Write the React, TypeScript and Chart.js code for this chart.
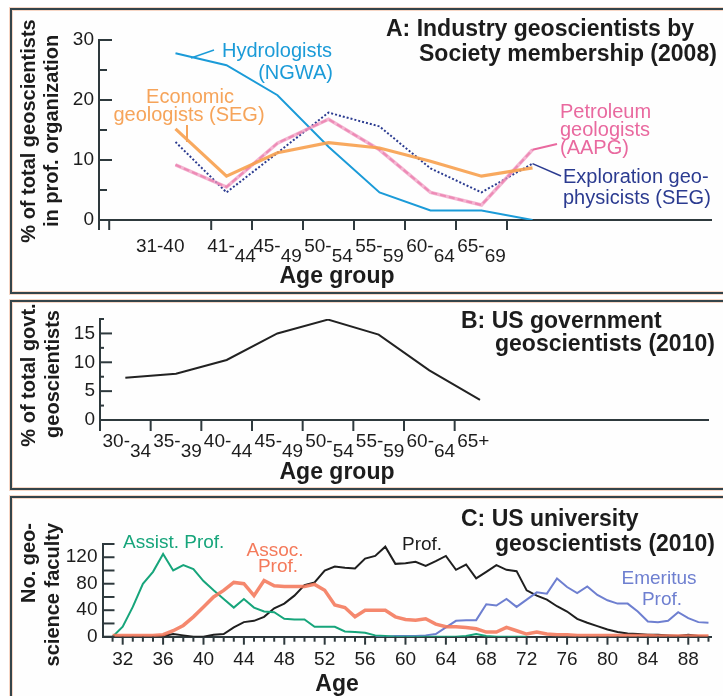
import React, { useEffect, useRef } from "react";
import { Chart, registerables } from "chart.js";

Chart.register(...registerables);

const SANS = '"Liberation Sans", Arial, Helvetica, sans-serif';
const INK = "#1c1c1c";
const AXIS = "#2e393d";

// ---------- Panel A: industry geoscientists by society (2008) ----------
const industryPointAges = [37, 42, 47, 52, 57, 62, 67, 72];
const hydrologistsNGWA = [27.8, 25.8, 20.8, 12.2, 4.6, 1.6, 1.6, 0];
const economicGeologistsSEG = [15.2, 7.3, 11.2, 12.9, 12.0, 9.8, 7.3, 8.7];
const petroleumGeologistsAAPG = [9.2, 5.5, 12.8, 16.8, 11.7, 4.6, 2.5, 11.7];
const explorationGeophysicistsSEG = [13.0, 4.6, 11.2, 17.9, 15.6, 8.6, 4.6, 9.4];
const industryBinEdges = [30.5, 40.5, 44.5, 49.5, 54.5, 59.5, 64.5, 69.5];
const industryBinLabels = ["31-40", "41-|44", "45-|49", "50-|54", "55-|59", "60-|64", "65-|69"];
const industryYTicks = [0, 5, 10, 15, 20, 25, 30];
const industryYLabels = [0, 10, 20, 30];

// ---------- Panel B: US government geoscientists (2010) ----------
const govtPointAges = [32, 37, 42, 47, 52, 57, 62, 67];
const govtShare = [7.3, 8.0, 10.4, 15.0, 17.4, 14.8, 8.6, 3.5];
const govtBinEdges = [29.5, 34.5, 39.5, 44.5, 49.5, 54.5, 59.5, 64.5];
const govtBinLabels = ["30-|34", "35-|39", "40-|44", "45-|49", "50-|54", "55-|59", "60-|64", "65+"];
const govtYTicks = [2.5, 5, 7.5, 10, 12.5, 15, 17.5];
const govtYLabels = [0, 5, 10, 15];

// ---------- Panel C: US university geoscientists (2010) ----------
const facultyAges = [
  31, 32, 33, 34, 35, 36, 37, 38, 39, 40,
  41, 42, 43, 44, 45, 46, 47, 48, 49, 50,
  51, 52, 53, 54, 55, 56, 57, 58, 59, 60,
  61, 62, 63, 64, 65, 66, 67, 68, 69, 70,
  71, 72, 73, 74, 75, 76, 77, 78, 79, 80,
  81, 82, 83, 84, 85, 86, 87, 88, 89, 90,
];
const assistProf = [
  0, 15, 45, 80, 98, 125, 100, 108, 102, 84,
  70, 57, 44, 57, 44, 38, 37, 27, 26, 26,
  15, 15, 15, 8, 7, 6, 2, 1, 0, 0,
  0, 0, 0, 0, 0, 1, 4, 1, 0, 0,
  0, 0, null, null, null, null, null, null, null, null,
  null, null, null, null, null, null, null, null, null, null,
];
const assocProf = [
  2, 2, 2, 2, 2, 3, 9, 17, 30, 45,
  60, 70, 82, 80, 62, 85, 77, 76, 76, 76,
  79, 70, 48, 44, 30, 40, 40, 40, 30, 26,
  25, 27, 19, 15, 15, 14, 12, 7, 7, 14,
  9, 4, 7, 4, 3, 3, 2, 2, 2, 2,
  2, 2, 2, 2, 1, 1, 1, 1, 1, 1,
];
const fullProf = [
  0, 0, 0, 0, 0, 1, 4, 2, 0, 0,
  3, 4, 14, 22, 24, 30, 43, 50, 62, 78,
  82, 100, 106, 104, 103, 118, 122, 136, 110, 111,
  113, 107, 114, 122, 101, 109, 88, 98, 108, 101,
  99, 70, 62, 56, 46, 38, 27, 21, 16, 11,
  7, 5, 4, 3, 3, 2, 1, 3, 1, 0,
];
const emeritusProf = [
  null, null, null, null, null, null, null, null, null, null,
  null, null, null, null, null, null, null, null, null, null,
  null, null, null, null, null, null, 0, 0, 1, 1,
  1, 2, 4, 14, 24, 25, 25, 49, 47, 57,
  45, 56, 67, 65, 88, 75, 66, 76, 63, 55,
  50, 50, 38, 23, 22, 24, 37, 28, 22, 21,
];
const facultyLabelAges = [32, 36, 40, 44, 48, 52, 56, 60, 64, 68, 72, 76, 80, 84, 88];
const facultyYTicks = [0, 20, 40, 60, 80, 100, 120, 140];
const facultyYLabels = [0, 40, 80, 120];

// ---------- helpers ----------
function setFont(ctx: CanvasRenderingContext2D, size: number, bold = false) {
  ctx.font = `${bold ? "bold " : ""}${size}px ${SANS}`;
}
function drawText(ctx: CanvasRenderingContext2D, s: string, x: number, y: number, size: number, color: string, bold = false, align: CanvasTextAlign = "left") {
  setFont(ctx, size, bold);
  ctx.fillStyle = color;
  ctx.textAlign = align;
  ctx.textBaseline = "middle";
  ctx.fillText(s, x, y);
}
function drawRotated(ctx: CanvasRenderingContext2D, s: string, x: number, y: number, align: CanvasTextAlign) {
  ctx.save();
  ctx.translate(x, y);
  ctx.rotate(-Math.PI / 2);
  drawText(ctx, s, 0, 0, 20, INK, true, align);
  ctx.restore();
}
function seg(ctx: CanvasRenderingContext2D, x1: number, y1: number, x2: number, y2: number, color: string, width: number) {
  ctx.beginPath();
  ctx.setLineDash([]);
  ctx.strokeStyle = color;
  ctx.lineWidth = width;
  ctx.moveTo(x1, y1);
  ctx.lineTo(x2, y2);
  ctx.stroke();
}
function drawSplitLabel(ctx: CanvasRenderingContext2D, label: string, x: number, yMain: number, ySub: number, centered: boolean) {
  const [main, sub = ""] = label.split("|");
  setFont(ctx, 19);
  const w1 = ctx.measureText(main).width;
  const w2 = sub ? ctx.measureText(sub).width : 0;
  const x0 = centered ? x - (w1 + w2) / 2 : x;
  drawText(ctx, main, x0, yMain, 19, INK);
  if (sub) drawText(ctx, sub, x0 + w1, ySub, 19, INK);
}
function pts(xs: number[], ys: (number | null)[]) {
  return xs.map((x, i) => ({ x, y: ys[i] }));
}

function baseOptions(o: { xMin: number; xMax: number; yMax: number; yLabels: number[]; left: number; right: number; top: number; bottomHeight: number }) {
  return {
    responsive: false,
    animation: false,
    devicePixelRatio: 1,
    events: [],
    layout: { padding: { left: 0, right: o.right, top: o.top, bottom: 0 } },
    plugins: { legend: { display: false }, tooltip: { enabled: false }, title: { display: false } },
    elements: { point: { radius: 0, hoverRadius: 0 }, line: { tension: 0, borderCapStyle: "butt" } },
    scales: {
      x: {
        type: "linear",
        min: o.xMin,
        max: o.xMax,
        grid: { display: false, drawTicks: false },
        border: { display: true, color: AXIS, width: 2 },
        ticks: { display: false },
        afterFit: (s: any) => { s.height = o.bottomHeight; },
      },
      y: {
        type: "linear",
        min: 0,
        max: o.yMax,
        grid: { display: false, drawTicks: false },
        border: { display: true, color: AXIS, width: 2 },
        ticks: { padding: 5, color: INK, font: { family: SANS, size: 19 }, autoSkip: false },
        afterBuildTicks: (s: any) => { s.ticks = o.yLabels.map((v) => ({ value: v })); },
        afterFit: (s: any) => { s.width = o.left; },
      },
    },
  };
}

// ---------- panel A ----------
function industryConfig(): any {
  const decor = {
    id: "industryDecor",
    afterDraw(chart: any) {
      const { ctx, chartArea: ca, scales } = chart;
      const x = scales.x, y = scales.y;
      ctx.save();
      for (const v of industryYTicks) {
        const py = y.getPixelForValue(v);
        seg(ctx, ca.left, py, ca.left + (v % 10 === 0 ? 13 : 8), py, AXIS, 2);
      }
      seg(ctx, ca.left, ca.bottom, ca.left, ca.bottom + 10, AXIS, 2);
      for (const a of industryBinEdges) {
        const px = x.getPixelForValue(a);
        seg(ctx, px, ca.bottom, px, ca.bottom + 10, AXIS, 2);
      }
      industryBinLabels.forEach((lab, i) => {
        const cx = (x.getPixelForValue(industryBinEdges[i]) + x.getPixelForValue(industryBinEdges[i + 1])) / 2;
        drawSplitLabel(ctx, lab, cx, ca.bottom + 27, ca.bottom + 37, true);
      });
      drawText(ctx, "Age group", 337, ca.bottom + 57, 23, INK, true, "center");
      drawRotated(ctx, "% of total geoscientists", 29, 131, "center");
      drawRotated(ctx, "in prof. organization", 52, 131, "center");
      drawText(ctx, "A: Industry geoscientists by", 386, 30, 23, INK, true);
      drawText(ctx, "Society membership (2008)", 419, 55, 23, INK, true);

      // series labels and leader lines
      drawText(ctx, "Hydrologists", 332, 51, 20, "#1b9bd8", false, "right");
      drawText(ctx, "(NGWA)", 333, 73, 20, "#1b9bd8", false, "right");
      seg(ctx, 191, 58, 214, 50, "#1b9bd8", 1.5);
      drawText(ctx, "Economic", 190, 97, 20, "#f6a45a", false, "center");
      drawText(ctx, "geologists (SEG)", 189, 115, 20, "#f6a45a", false, "center");
      seg(ctx, 187, 125, 187, 142, "#f6a45a", 2);
      drawText(ctx, "Petroleum", 560, 112, 20, "#e9699f");
      drawText(ctx, "geologists", 560, 130, 20, "#e9699f");
      drawText(ctx, "(AAPG)", 560, 148, 20, "#e9699f");
      const pLast = petroleumGeologistsAAPG.length - 1;
      seg(ctx, x.getPixelForValue(industryPointAges[pLast]), y.getPixelForValue(petroleumGeologistsAAPG[pLast]), 557, 144, "#e9699f", 2);
      drawText(ctx, "Exploration geo-", 563, 177, 20, "#2b3b90");
      drawText(ctx, "physicists (SEG)", 563, 198, 20, "#2b3b90");
      const eLast = explorationGeophysicistsSEG.length - 1;
      seg(ctx, x.getPixelForValue(industryPointAges[eLast]), y.getPixelForValue(explorationGeophysicistsSEG[eLast]), 561, 176, "#2b3b90", 1.5);
      ctx.restore();
    },
  };
  return {
    type: "line",
    data: {
      datasets: [
        { data: pts(industryPointAges, economicGeologistsSEG), borderColor: "rgba(247,160,78,0.9)", borderWidth: 3.2 },
        { data: pts(industryPointAges, petroleumGeologistsAAPG), borderColor: "rgba(240,150,190,0.7)", borderWidth: 3.5 },
        { data: pts(industryPointAges, petroleumGeologistsAAPG), borderColor: "rgba(228,90,152,0.85)", borderWidth: 2.2, borderDash: [6, 3] },
        { data: pts(industryPointAges, explorationGeophysicistsSEG), borderColor: "#2b3b90", borderWidth: 2, borderDash: [2, 2] },
        { data: pts(industryPointAges, hydrologistsNGWA), borderColor: "#1b9bd8", borderWidth: 2 },
      ],
    },
    options: baseOptions({ xMin: 29.5, xMax: 89.5, yMax: 30, yLabels: industryYLabels, left: 99, right: 12, top: 40, bottomHeight: 73 }),
    plugins: [decor],
  };
}

// ---------- panel B ----------
function govtConfig(): any {
  const decor = {
    id: "govtDecor",
    afterDraw(chart: any) {
      const { ctx, chartArea: ca, scales } = chart;
      const x = scales.x, y = scales.y;
      ctx.save();
      for (const v of govtYTicks) {
        const py = y.getPixelForValue(v);
        seg(ctx, ca.left, py, ca.left + (v % 5 === 0 ? 12 : 4), py, AXIS, 2);
      }
      for (const a of govtBinEdges) {
        const px = x.getPixelForValue(a);
        seg(ctx, px, ca.bottom, px, ca.bottom + 11, AXIS, 2);
      }
      govtBinLabels.forEach((lab, i) => {
        drawSplitLabel(ctx, lab, x.getPixelForValue(govtBinEdges[i]) + 2.5, ca.bottom + 22, ca.bottom + 32, false);
      });
      drawText(ctx, "Age group", 337, ca.bottom + 53, 23, INK, true, "center");
      drawRotated(ctx, "% of total govt.", 29, 82, "center");
      drawRotated(ctx, "geoscientists", 53, 81, "center");
      drawText(ctx, "B: US government", 461, 29, 23, INK, true);
      drawText(ctx, "geoscientists (2010)", 495, 52, 23, INK, true);
      ctx.restore();
    },
  };
  return {
    type: "line",
    data: {
      datasets: [{ data: pts(govtPointAges, govtShare), borderColor: "#222222", borderWidth: 2 }],
    },
    options: baseOptions({ xMin: 29.5, xMax: 89.5, yMax: 17.5, yLabels: govtYLabels, left: 100, right: 15, top: 26, bottomHeight: 69 }),
    plugins: [decor],
  };
}

// ---------- panel C ----------
function facultyConfig(): any {
  const decor = {
    id: "facultyDecor",
    afterDraw(chart: any) {
      const { ctx, chartArea: ca, scales } = chart;
      const x = scales.x, y = scales.y;
      ctx.save();
      for (const v of facultyYTicks) {
        const py = y.getPixelForValue(v);
        seg(ctx, ca.left, py, ca.left + 12, py, AXIS, 2);
      }
      for (const a of facultyAges) {
        const px = x.getPixelForValue(a);
        seg(ctx, px, ca.bottom, px, ca.bottom + (facultyLabelAges.includes(a) ? 8 : 5), AXIS, 2);
      }
      for (const a of facultyLabelAges) {
        drawText(ctx, String(a), x.getPixelForValue(a), ca.bottom + 23, 19, INK, false, "center");
      }
      drawText(ctx, "Age", 337, ca.bottom + 48, 23, INK, true, "center");
      drawRotated(ctx, "No. geo-", 29, 34, "right");
      drawRotated(ctx, "science faculty", 53, 34, "right");
      drawText(ctx, "C: US university", 461, 31, 23, INK, true);
      drawText(ctx, "geoscientists (2010)", 495, 56, 23, INK, true);

      drawText(ctx, "Assist. Prof.", 123, 54, 19, "#17a57b");
      drawText(ctx, "Assoc.", 275, 62, 19, "#f47a5b", false, "center");
      drawText(ctx, "Prof.", 278, 78, 19, "#f47a5b", false, "center");
      drawText(ctx, "Prof.", 402, 56, 19, INK);
      drawText(ctx, "Emeritus", 659, 90, 19, "#6e7fd0", false, "center");
      drawText(ctx, "Prof.", 662, 111, 19, "#6e7fd0", false, "center");
      ctx.restore();
    },
  };
  return {
    type: "line",
    data: {
      datasets: [
        { data: pts(facultyAges, assocProf), borderColor: "rgba(244,120,90,0.88)", borderWidth: 3.5 },
        { data: pts(facultyAges, assistProf), borderColor: "#17a57b", borderWidth: 2 },
        { data: pts(facultyAges, emeritusProf), borderColor: "#6e7fd0", borderWidth: 2 },
        { data: pts(facultyAges, fullProf), borderColor: "#1f1f1f", borderWidth: 2 },
      ],
    },
    options: baseOptions({ xMin: 30, xMax: 90.3, yMax: 140, yLabels: facultyYLabels, left: 102.5, right: 11.5, top: 55, bottomHeight: 59.3 }),
    plugins: [decor],
  };
}

function ChartCanvas({ top, height, build }: { top: number; height: number; build: () => any }) {
  const ref = useRef<HTMLCanvasElement>(null);
  useEffect(() => {
    const chart = new Chart(ref.current as HTMLCanvasElement, build());
    return () => chart.destroy();
  }, []);
  return (
    <canvas
      ref={ref}
      width={723}
      height={height}
      style={{ position: "absolute", left: 0, top, width: 723, height, display: "block" }}
    />
  );
}

function panelStyle(top: number, height: number): React.CSSProperties {
  return {
    position: "absolute",
    left: 10,
    top,
    width: 760,
    height,
    boxSizing: "border-box",
    border: "2px solid #34444a",
    boxShadow: "0 0 0 1px rgba(240,180,150,0.55), inset 0 0 0 1px rgba(240,180,150,0.55)",
    background: "#fefefe",
  };
}

export default function App() {
  return (
    <div style={{ position: "fixed", left: 0, top: 0, width: 723, height: 696, overflow: "hidden", background: "#ffffff" }}>
      <div style={panelStyle(8, 286)} />
      <div style={panelStyle(300, 190)} />
      <div style={panelStyle(496, 260)} />
      <ChartCanvas top={0} height={293} build={industryConfig} />
      <ChartCanvas top={293} height={196} build={govtConfig} />
      <ChartCanvas top={489} height={207} build={facultyConfig} />
    </div>
  );
}
